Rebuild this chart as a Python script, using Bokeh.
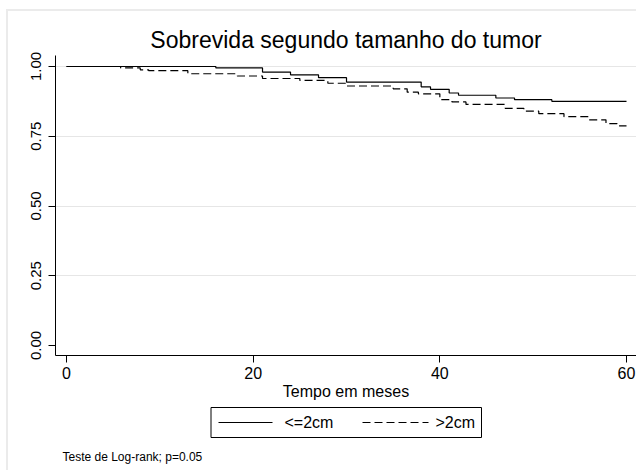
from bokeh.plotting import figure
from bokeh.layouts import column
from bokeh.models import FixedTicker, Label, Range1d
from bokeh.core.properties import value
from bokeh.embed import file_html
from bokeh.resources import INLINE

# Kaplan-Meier estimates
t_small = [0, 16, 21, 24, 27, 30, 38, 39, 41, 42, 46, 48, 52, 60]
s_small = [1.0, 0.995, 0.98, 0.97, 0.96, 0.944, 0.927, 0.918, 0.905, 0.897, 0.887, 0.881, 0.875, 0.875]

t_large = [0, 5.8, 7.9, 8.8, 13, 18.3, 21, 25, 28, 30, 35, 36.5, 37.7, 40, 41.3, 42.8,
           47, 49, 50.6, 53.3, 56, 57.8, 59, 60]
s_large = [1.0, 0.995, 0.988, 0.985, 0.974, 0.966, 0.957, 0.95, 0.94, 0.93, 0.92, 0.908,
           0.902, 0.881, 0.873, 0.864, 0.85, 0.84, 0.831, 0.82, 0.809, 0.795, 0.787, 0.787]

x_ticks = [0, 20, 40, 60]
y_ticks = [0.0, 0.25, 0.5, 0.75, 1.0]
y_grid = [0.25, 0.5, 0.75, 1.0]
labels = ["<=2cm", ">2cm"]
title_text = "Sobrevida segundo tamanho do tumor"
xlabel = "Tempo em meses"
note = "Teste de Log-rank; p=0.05"

FONT = "Liberation Sans"
DASH = "8 4"

p = figure(width=628, height=393, title=title_text,
           x_range=Range1d(-1.18, 61.07), y_range=Range1d(-0.0358, 1.0394),
           output_backend="svg", toolbar_location=None,
           min_border_left=47, min_border_right=0, min_border_top=44, min_border_bottom=49)
p.outline_line_color = None
p.background_fill_color = "white"
p.title.align = "center"
p.title.text_font = FONT
p.title.text_font_size = "23px"
p.title.text_font_style = "normal"
p.title.text_color = "black"
p.title.standoff = 6

p.xgrid.visible = False
p.ygrid.ticker = FixedTicker(ticks=y_grid)
p.ygrid.grid_line_color = "#e6e6e6"
p.ygrid.grid_line_width = 1

r1 = p.step(t_small, s_small, mode="after", line_color="black", line_width=1.2)
r2 = p.step(t_large, s_large, mode="after", line_color="black", line_width=1.2, line_dash=DASH)

xa = p.xaxis[0]
xa.ticker = FixedTicker(ticks=x_ticks)
xa.axis_label = xlabel
xa.axis_label_text_font = FONT
xa.axis_label_text_font_size = "16px"
xa.axis_label_text_font_style = "normal"
xa.axis_label_text_color = "black"
xa.axis_label_standoff = 1
xa.major_label_text_font = FONT
xa.major_label_text_font_size = "16px"
xa.major_label_text_color = "black"
xa.major_label_standoff = 4
xa.major_tick_out = 7
xa.major_tick_in = 0
xa.minor_tick_out = 0
xa.minor_tick_in = 0
xa.axis_line_color = "black"
xa.major_tick_line_color = "black"

ya = p.yaxis[0]
ya.ticker = FixedTicker(ticks=y_ticks)
ya.major_label_overrides = {v: f"{v:.2f}" for v in y_ticks}
ya.major_label_orientation = "vertical"
ya.major_label_text_font = FONT
ya.major_label_text_font_size = "15px"
ya.major_label_text_color = "black"
ya.major_label_standoff = 7
ya.major_tick_out = 7
ya.major_tick_in = 0
ya.minor_tick_out = 0
ya.minor_tick_in = 0
ya.axis_line_color = "black"
ya.major_tick_line_color = "black"

# lower strip in page-pixel coordinates: legend box and footnote
p2 = figure(width=628, height=66, x_range=Range1d(55, 636), y_range=Range1d(470, 404),
            output_backend="svg", toolbar_location=None,
            x_axis_location=None, y_axis_location=None,
            min_border_left=47, min_border_right=0, min_border_top=0, min_border_bottom=0)
p2.grid.visible = False
p2.outline_line_color = None

p2.quad(left=[210.5], right=[481], bottom=[437], top=[407],
        fill_color="white", line_color="black", line_width=1)
p2.line([218, 272], [422, 422], line_color="black", line_width=1.2)
p2.line([362, 428], [422, 422], line_color="black", line_width=1.2, line_dash=DASH)
p2.text(x=[284, 435], y=[422, 422], text=labels, text_font=value(FONT),
        text_font_size="16px", text_color="black", text_align="left",
        text_baseline="middle")
p2.add_layout(Label(x=62, y=456, text=note, text_align="left", text_baseline="middle",
                    text_font=FONT, text_font_size="12px", text_color="black"))

layout = column(p, p2, spacing=0,
                styles={"margin-left": "6px", "margin-top": "9px",
                        "border-top": "2px solid #ebebeb", "border-left": "2px solid #ebebeb"})

open("out.html", "w").write(file_html(layout, INLINE))
